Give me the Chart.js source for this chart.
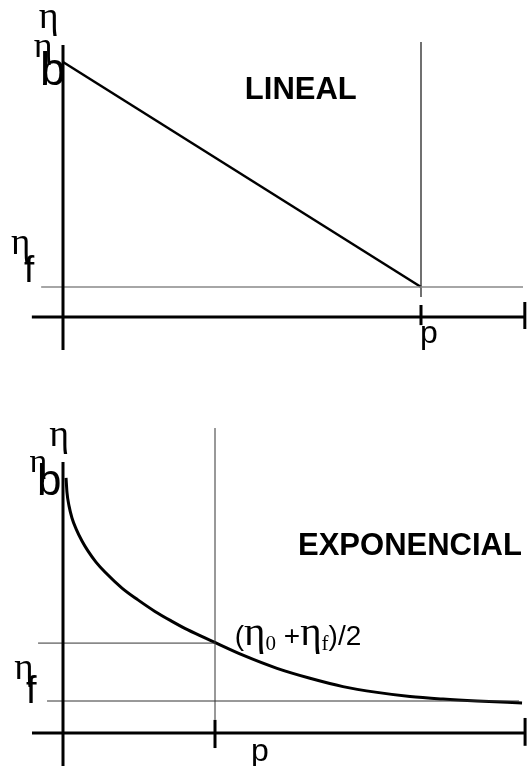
<!DOCTYPE html>
<html>
<head>
<meta charset="utf-8">
<script src="https://cdn.jsdelivr.net/npm/chart.js@4.4.1/dist/chart.umd.min.js"></script>
<style>
  html, body { margin: 0; padding: 0; background: #fff; }
  .caja { position: absolute; left: 0; width: 528px; height: 383px; }
</style>
</head>
<body>
<div class="caja" style="top:0"><canvas id="graficoLineal"></canvas></div>
<div class="caja" style="top:383px"><canvas id="graficoExp"></canvas></div>
<script>
// ---- LINEAL (x en unidades de p, y en unidades de eta_f) ----
let pLineal = 1
let eta0Lineal = 8.5
let etaFLineal = 1
let xLineal = [0, pLineal]
let yLineal = [eta0Lineal, etaFLineal]
let ejeXLineal = [-0.087, 1.29]      // extremos del eje horizontal
let ejeYLineal = [-1.1, 9.07]        // extremos del eje vertical
let lineaEtaFLineal = [-0.061, 1.285]
let lineaPLineal = [0.67, 9.17]
let marcaLineal = [-0.27, 0.4]
let marcaFinLineal = [-0.4, 0.5]

// ---- EXPONENCIAL ----
let pExp = 1
let etaFExp = 1
let etaMedioExp = 2.81
let xExp = [0.02, 0.026, 0.04, 0.059, 0.086, 0.125, 0.164, 0.217, 0.276, 0.388, 0.493, 0.605,
            0.717, 0.822, 0.98, 1.184, 1.408, 1.625, 1.842, 2.066, 2.283, 2.5, 2.724, 3.02]
let yExp = [7.97, 7.53, 7.09, 6.72, 6.38, 6.0, 5.69, 5.34, 5.03, 4.53, 4.16, 3.8,
            3.49, 3.22, 2.87, 2.43, 2.02, 1.71, 1.45, 1.27, 1.14, 1.06, 1.0, 0.94]
let ejeXExp = [-0.204, 3.04]
let ejeYExp = [-1.1, 8.47]
let lineaEtaFExp = [-0.105, 3.0]
let lineaMedioExp = [-0.164, pExp]
let lineaPExp = [0.41, 9.53]
let marcaExp = [-0.47, 0.41]
let marcaFinExp = [-0.4, 0.47]

const serif = '"Liberation Serif", "DejaVu Serif", serif'
const sans = '"Liberation Sans", Arial, sans-serif'

function tramo(xs, ys, color, ancho) {
    return {
        data: xs.map((x, i) => ({ x: x, y: ys[i] })),
        borderColor: color,
        borderWidth: ancho,
        pointRadius: 0,
        showLine: true,
        fill: false,
        clip: false
    }
}

const rotulos = {
    id: 'rotulos',
    afterDatasetsDraw(chart, args, opts) {
        const ctx = chart.ctx
        const sx = chart.scales.x, sy = chart.scales.y
        ctx.save()
        ctx.fillStyle = '#000'
        ctx.textBaseline = 'alphabetic'
        ctx.textAlign = 'left'
        opts.items.forEach((it) => {
            let px = sx.getPixelForValue(it.x)
            let py = sy.getPixelForValue(it.y)
            it.parts.forEach((pt) => {
                ctx.font = pt.font
                ctx.fillText(pt.t, px, py + (pt.dy || 0))
                px += ctx.measureText(pt.t).width + (pt.dx || 0)
            })
        })
        ctx.restore()
    }
}

function opciones(xmin, xmax, ymin, ymax, items) {
    return {
        responsive: true,
        maintainAspectRatio: false,
        animation: false,
        events: [],
        layout: { padding: 0 },
        scales: {
            x: { type: 'linear', min: xmin, max: xmax, display: false },
            y: { type: 'linear', min: ymin, max: ymax, display: false }
        },
        plugins: {
            legend: { display: false },
            tooltip: { enabled: false },
            rotulos: { items: items }
        }
    }
}

// grafico lineal
const dataLineal = {
    datasets: [
        tramo(ejeXLineal, [0, 0], '#000', 3),
        tramo([0, 0], ejeYLineal, '#000', 3),
        tramo(lineaEtaFLineal, [etaFLineal, etaFLineal], '#888', 1.5),
        tramo([pLineal, pLineal], lineaPLineal, '#111', 1.2),
        tramo([pLineal, pLineal], marcaLineal, '#000', 3),
        tramo([ejeXLineal[1], ejeXLineal[1]], marcaFinLineal, '#000', 3),
        tramo(xLineal, yLineal, '#000', 2.5)
    ]
}

new Chart(document.getElementById('graficoLineal'), {
    type: 'scatter',
    data: dataLineal,
    options: opciones(-63 / 358, 465 / 358, -2.2, 317 / 30, [
        { x: -0.068, y: 9.63, parts: [{ t: 'η', font: '38px ' + serif }] },
        { x: -0.082, y: 8.67, parts: [{ t: 'η', font: '36px ' + serif }] },
        { x: -0.064, y: 7.73, parts: [{ t: 'b', font: '46px ' + sans }] },
        { x: -0.145, y: 2.1, parts: [{ t: 'η', font: '37px ' + serif }] },
        { x: -0.109, y: 1.17, parts: [{ t: 'f', font: '37px ' + sans }] },
        { x: 0.508, y: 7.27, parts: [{ t: 'LINEAL', font: 'bold 31px ' + sans }] },
        { x: 0.997, y: -0.87, parts: [{ t: 'p', font: '32px ' + sans }] }
    ]),
    plugins: [rotulos]
})

// grafico exponencial
const dataExp = {
    datasets: [
        tramo(ejeXExp, [0, 0], '#000', 3),
        tramo([0, 0], ejeYExp, '#000', 3),
        tramo(lineaEtaFExp, [etaFExp, etaFExp], '#333', 1),
        tramo(lineaMedioExp, [etaMedioExp, etaMedioExp], '#333', 1),
        tramo([pExp, pExp], lineaPExp, '#333', 1),
        tramo([pExp, pExp], marcaExp, '#000', 3),
        tramo([ejeXExp[1], ejeXExp[1]], marcaFinExp, '#000', 3),
        Object.assign(tramo(xExp, yExp, '#000', 3), { cubicInterpolationMode: 'monotone' })
    ]
}

new Chart(document.getElementById('graficoExp'), {
    type: 'scatter',
    data: dataExp,
    options: opciones(-63 / 152, 465 / 152, -33 / 32, 350 / 32, [
        { x: -0.09, y: 8.97, parts: [{ t: 'η', font: '38px ' + serif }] },
        { x: -0.22, y: 8.16, parts: [{ t: 'η', font: '34px ' + serif }] },
        { x: -0.171, y: 7.44, parts: [{ t: 'b', font: '44px ' + sans }] },
        { x: -0.32, y: 1.69, parts: [{ t: 'η', font: '37px ' + serif }] },
        { x: -0.243, y: 0.94, parts: [{ t: 'f', font: '38px ' + sans }] },
        { x: 1.546, y: 5.56, parts: [{ t: 'EXPONENCIAL', font: 'bold 31px ' + sans }] },
        { x: 1.13, y: 2.75, parts: [
            { t: '(', font: '28px ' + sans },
            { t: 'η', font: '41px ' + serif },
            { t: '0', font: '21px ' + serif, dy: 5 },
            { t: ' +', font: '28px ' + sans },
            { t: 'η', font: '41px ' + serif },
            { t: 'f', font: '21px ' + serif, dy: 5 },
            { t: ')/2', font: '28px ' + sans }
        ] },
        { x: 1.237, y: -0.875, parts: [{ t: 'p', font: '32px ' + sans }] }
    ]),
    plugins: [rotulos]
})
</script>
</body>
</html>
